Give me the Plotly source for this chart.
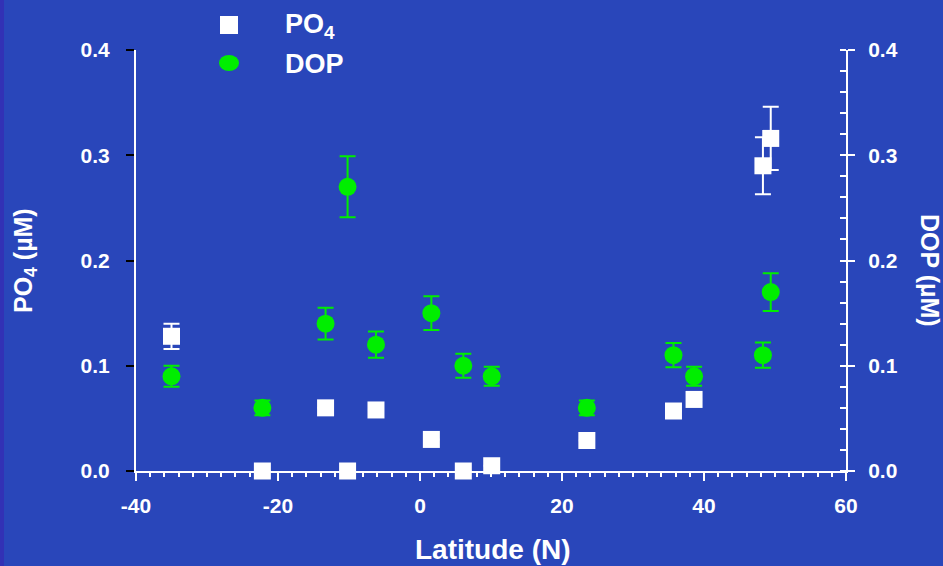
import plotly.graph_objects as go

# Latitude of each station (degrees N)
lat = [-35.0, -22.2, -13.3, -10.2, -6.2, 1.6, 6.1, 10.1, 23.5, 35.7, 38.6, 48.3, 49.4]

# Phosphate (uM) and its standard deviation
po4 = [0.128, 0.000, 0.060, 0.000, 0.058, 0.030, 0.000, 0.005, 0.029, 0.057, 0.068, 0.290, 0.316]
po4_err = [0.012, 0.0, 0.0, 0.0, 0.0, 0.0, 0.0, 0.0, 0.0, 0.0, 0.0, 0.027, 0.030]

# Dissolved organic phosphorus (uM) and its standard deviation
dop = [0.090, 0.060, 0.140, 0.270, 0.120, 0.150, 0.100, 0.090, 0.060, 0.110, 0.090, 0.110, 0.170]
dop_err = [0.010, 0.007, 0.015, 0.029, 0.0125, 0.016, 0.0115, 0.009, 0.007, 0.0115, 0.009, 0.012, 0.018]

x_ticks = [-40, -20, 0, 20, 40, 60]
y_ticks = [0.0, 0.1, 0.2, 0.3, 0.4]

BG = "#2946ba"
EDGE = "#3231b5"
GREEN = "#00ee00"
WHITE = "#ffffff"
FONT = "Liberation Sans, Arial, sans-serif"

W, H = 943, 566
L, R, T, B = 136, 97, 50, 95
PW, PH = W - L - R, H - T - B


def px_to_paper(px, py):
    return (px - L) / PW, (H - B - py) / PH


fig = go.Figure()

fig.add_trace(go.Scatter(
    x=lat, y=dop, mode="markers", name="DOP", yaxis="y2",
    marker=dict(symbol="circle", size=18, color=GREEN, line=dict(width=0)),
    error_y=dict(type="data", array=dop_err, color=GREEN, thickness=2, width=8),
    cliponaxis=False,
))

fig.add_trace(go.Scatter(
    x=lat, y=po4, mode="markers", name="PO4",
    marker=dict(symbol="square", size=17, color=WHITE, line=dict(width=0)),
    error_y=dict(type="data", array=po4_err, color=WHITE, thickness=2, width=8),
    cliponaxis=False,
))

tick_font = dict(family=FONT, size=21, color=WHITE, weight="bold")

fig.update_layout(
    width=W, height=H,
    margin=dict(l=L, r=R, t=T, b=B),
    paper_bgcolor=BG, plot_bgcolor=BG,
    showlegend=False,
    xaxis=dict(
        range=[-40, 60], tickvals=x_ticks, ticktext=[str(v) for v in x_ticks],
        showgrid=False, zeroline=False,
        showline=True, linecolor=WHITE, linewidth=2,
        ticks="outside", ticklen=8, tickwidth=2, tickcolor=WHITE,
        minor=dict(dtick=2, ticks="outside", ticklen=4, tickwidth=1.5, tickcolor=WHITE),
        tickfont=tick_font, ticklabelstandoff=7,
    ),
    yaxis=dict(
        range=[0, 0.4], tickvals=y_ticks, ticktext=[f"{v:.1f}" for v in y_ticks],
        showgrid=False, zeroline=False,
        showline=True, linecolor=WHITE, linewidth=2,
        ticks="outside", ticklen=8, tickwidth=2, tickcolor="#000000",
        tickfont=tick_font, ticklabelstandoff=12,
    ),
    yaxis2=dict(
        range=[0, 0.4], tickvals=y_ticks, ticktext=[f"{v:.1f}" for v in y_ticks],
        overlaying="y", side="right",
        showgrid=False, zeroline=False,
        showline=True, linecolor=WHITE, linewidth=2,
        ticks="outside", ticklen=7, tickwidth=2, tickcolor=WHITE,
        minor=dict(dtick=0.02, ticks="inside", ticklen=6, tickwidth=1.5, tickcolor=WHITE),
        tickfont=tick_font, ticklabelstandoff=9,
    ),
)

# Darker strip along the left edge of the slide
ex0, ey0 = px_to_paper(0, H)
ex1, ey1 = px_to_paper(4, 0)
fig.add_shape(type="rect", xref="paper", yref="paper", x0=ex0, y0=ey0, x1=ex1, y1=ey1,
              fillcolor=EDGE, line=dict(width=0), layer="below")

# Axis titles
title_font = dict(family=FONT, size=28, color=WHITE, weight="bold")
x0, y0 = px_to_paper(493, 549)
fig.add_annotation(x=x0, y=y0, xref="paper", yref="paper", text="Latitude (N)",
                   showarrow=False, font=title_font, xanchor="center", yanchor="middle")
x0, y0 = px_to_paper(25, 260)
fig.add_annotation(x=x0, y=y0, xref="paper", yref="paper", text="PO<sub>4</sub> (µM)",
                   showarrow=False, font=dict(family=FONT, size=25, color=WHITE, weight="bold"),
                   textangle=-90, xanchor="center", yanchor="middle")
x0, y0 = px_to_paper(930, 270)
fig.add_annotation(x=x0, y=y0, xref="paper", yref="paper", text="DOP (µM)",
                   showarrow=False, font=dict(family=FONT, size=25, color=WHITE, weight="bold"),
                   textangle=90, xanchor="center", yanchor="middle")

# Legend drawn by hand: symbols as shapes, labels as annotations
sx0, sy0 = px_to_paper(220, 34)
sx1, sy1 = px_to_paper(238, 16)
fig.add_shape(type="rect", xref="paper", yref="paper", x0=sx0, y0=sy0, x1=sx1, y1=sy1,
              fillcolor=WHITE, line=dict(width=0))
cx0, cy0 = px_to_paper(219, 71)
cx1, cy1 = px_to_paper(239, 55)
fig.add_shape(type="circle", xref="paper", yref="paper", x0=cx0, y0=cy0, x1=cx1, y1=cy1,
              fillcolor=GREEN, line=dict(width=0))

leg_font = dict(family=FONT, size=27, color=WHITE, weight="bold")
lx, ly = px_to_paper(283, 26)
fig.add_annotation(x=lx, y=ly, xref="paper", yref="paper", text="PO<sub>4</sub>",
                   showarrow=False, font=leg_font, xanchor="left", yanchor="middle")
lx, ly = px_to_paper(283, 64)
fig.add_annotation(x=lx, y=ly, xref="paper", yref="paper", text="DOP",
                   showarrow=False, font=leg_font, xanchor="left", yanchor="middle")

fig.write_html("out.html")
